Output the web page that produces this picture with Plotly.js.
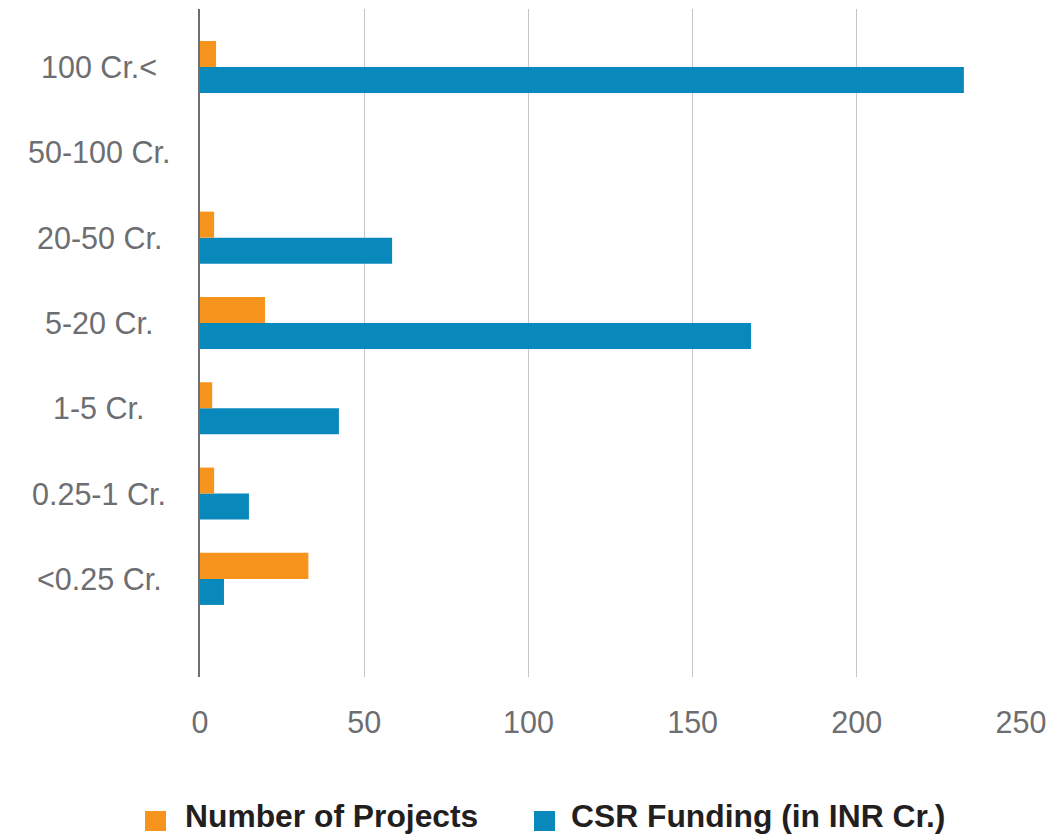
<!DOCTYPE html>
<html>
<head>
<meta charset="utf-8">
<script src="https://cdn.plot.ly/plotly-3.0.1.min.js"></script>
<style>
  html, body { margin: 0; padding: 0; background: #ffffff; }
  #chart { width: 1054px; height: 836px; }
</style>
</head>
<body>
<div id="chart"></div>
<script>
// Categories listed bottom-to-top
const categories = ["<0.25 Cr.", "0.25-1 Cr.", "1-5 Cr.", "5-20 Cr.", "20-50 Cr.", "50-100 Cr.", "100 Cr.<"];
const numberOfProjects = [33, 4.3, 3.7, 19.8, 4.3, 0, 4.9];
const csrFunding = [7.3, 14.9, 42.3, 167.8, 58.5, 0, 232.6];
const seriesNames = ["Number of Projects", "CSR Funding (in INR Cr.)"];
const seriesColors = ["#f7941d", "#0888bb"];
const xTickValues = [0, 50, 100, 150, 200, 250];

const labelFont = { family: "Liberation Sans, Arial, sans-serif", size: 30.5, color: "#6d6e71" };

const traces = [
  {
    type: "bar", orientation: "h", name: seriesNames[1],
    y: categories, x: csrFunding,
    marker: { color: seriesColors[1] },
    hoverinfo: "x+y", showlegend: false
  },
  {
    type: "bar", orientation: "h", name: seriesNames[0],
    y: categories, x: numberOfProjects,
    marker: { color: seriesColors[0] },
    hoverinfo: "x+y", showlegend: false
  }
];

// plot area in pixels: x 200..1021, y 9..677
const L = 200, R = 1021, T = 9, B = 677;
const W = R - L, H = B - T;
const px = v => (v - L) / W;
const py = v => (B - v) / H;

const annotations = categories.map(c => ({
  xref: "paper", yref: "y", x: px(99), y: c,
  text: c, showarrow: false, xanchor: "center", yanchor: "middle",
  font: labelFont
}));

// Legend (manual, to match large square swatches)
const legendItems = [
  { sq: 145, tx: 183, name: seriesNames[0], color: seriesColors[0] },
  { sq: 534, tx: 569, name: seriesNames[1], color: seriesColors[1] }
];
const shapes = [];
legendItems.forEach(it => {
  shapes.push({
    type: "rect", xref: "paper", yref: "paper",
    x0: px(it.sq), x1: px(it.sq + 21), y0: py(831), y1: py(811),
    fillcolor: it.color, line: { width: 0 }
  });
  annotations.push({
    xref: "paper", yref: "paper", x: px(it.tx), y: py(816),
    text: "<b>" + it.name + "</b>", showarrow: false,
    xanchor: "left", yanchor: "middle",
    font: { family: "Liberation Sans, Arial, sans-serif", size: 31.8, color: "#231f20" }
  });
});

const layout = {
  width: 1054, height: 836,
  margin: { l: L, r: 1054 - R, t: T, b: 836 - B, pad: 0 },
  paper_bgcolor: "#ffffff", plot_bgcolor: "#ffffff",
  barmode: "group", bargap: 0.39, bargroupgap: 0,
  showlegend: false,
  xaxis: {
    range: [0, 250], tickvals: xTickValues, ticktext: xTickValues.map(String),
    showgrid: true, gridcolor: "#c4c4c4", gridwidth: 1,
    zeroline: false, showline: false, ticks: "",
    tickfont: labelFont, ticklabelstandoff: 24, fixedrange: true
  },
  yaxis: {
    type: "category", categoryorder: "array", categoryarray: categories,
    range: [-1.15, 6.68],
    showgrid: false, zeroline: false, showticklabels: false, ticks: "",
    showline: true, linecolor: "#6d6e71", linewidth: 2, fixedrange: true
  },
  annotations: annotations,
  shapes: shapes
};

Plotly.newPlot("chart", traces, layout, { displayModeBar: false, staticPlot: true });
</script>
</body>
</html>
